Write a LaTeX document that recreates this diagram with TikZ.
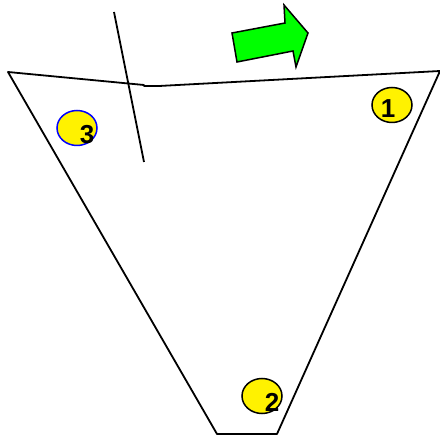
\documentclass[tikz,border=0pt]{standalone}
\usepackage{fontspec}
\setsansfont{Liberation Sans}
\usepackage{tikz}
\usetikzlibrary{positioning, shapes.geometric}

\begin{document}
\begin{tikzpicture}[x=1pt, y=-1pt]
    % Define styles
    \tikzstyle{edge} = [line width=1.8pt, black]
    \tikzstyle{marker} = [ellipse, draw=black, line width=1.5pt, fill=yellow, minimum width=40pt, minimum height=35pt, inner sep=0pt]
    \tikzstyle{number} = [font=\sffamily\bfseries\fontsize{26}{26}\selectfont, inner sep=0pt]

    \useasboundingbox (0,0) rectangle (440,438);

    % Corners of the outline
    \coordinate (topleft) at (8,72);
    \coordinate (kinka) at (144,85);
    \coordinate (kinkb) at (159,86);
    \coordinate (topright) at (440,71);
    \coordinate (botright) at (277,434);
    \coordinate (botleft) at (217,434);

    % Outline
    \draw [edge, line join=round] (topleft) -- (kinka) -- (144,86) -- (kinkb) -- (topright) -- (botright) -- (botleft) -- cycle;

    % Crossing line
    \coordinate (cuttop) at (114,12);
    \coordinate (cutbot) at (144,162);
    \draw [edge] (cuttop) -- (cutbot);

    % Direction arrow
    \draw [line width=1.5pt, fill=green, line join=miter] (232,33) -- (285,23) -- (284,5) -- (308,33) -- (296,67) -- (293,51) -- (237,62) -- cycle;

    % Markers
    \node (m1) [marker] at (392,105) {};
    \node (m2) [marker] at (262,396) {};
    \node (m3) [marker, draw=blue] at (77,128) {};

    % Numbers
    \node (n1) [number] at (388,109) {1};
    \node (n2) [number] at (272,402) {2};
    \node (n3) [number] at (87,135) {3};
\end{tikzpicture}
\end{document}
